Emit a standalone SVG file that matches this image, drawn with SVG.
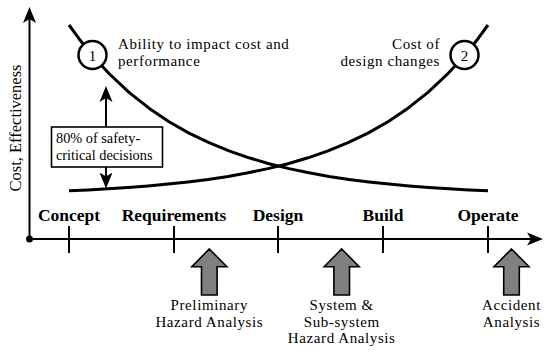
<svg xmlns="http://www.w3.org/2000/svg" xmlns:xlink="http://www.w3.org/1999/xlink" width="550" height="355" viewBox="0 0 550 355">
<style>
.t{font-family:"Liberation Serif",serif;font-size:15px;letter-spacing:0.6px;fill:#000}
.n{font-family:"Liberation Serif",serif;font-size:15px;fill:#000}
.yl{font-family:"Liberation Serif",serif;font-size:16.5px;fill:#000}
.b{font-family:"Liberation Serif",serif;font-size:17.5px;font-weight:bold;fill:#000}
.s{font-family:"Liberation Serif",serif;font-size:14.3px;fill:#000}
.ax{stroke:#000;stroke-width:2;fill:none}
.cv{stroke:#000;stroke-width:3;fill:none;stroke-linejoin:round;stroke-linecap:butt}
.circ{fill:#fff;stroke:#000;stroke-width:2.5}
.big{fill:#808080;stroke:#000;stroke-width:1.6;stroke-linejoin:miter}
</style>
<defs>
<marker id="ah" viewBox="0 -8 18 16" markerWidth="18" markerHeight="16" refX="12" refY="0" orient="auto" markerUnits="userSpaceOnUse">
<path d="M16,0 L0,-6.5 L4,0 L0,6.5 Z" fill="#000"/>
</marker>
<path id="bigArrow" d="M0,0 L17.5,17.7 L7.8,17.7 L7.8,46 L-7.8,46 L-7.8,17.7 L-17.5,17.7 Z"/>
</defs>
<rect width="550" height="355" fill="#fff"/>

<g id="connectors">
<line id="y-axis" class="ax" x1="29.5" y1="239" x2="29.5" y2="11" marker-end="url(#ah)"/>
<line id="x-axis" class="ax" x1="29.5" y1="239" x2="539" y2="239" marker-end="url(#ah)"/>
<circle cx="29.5" cy="239" r="3.5" fill="#000"/>
<g id="ticks" class="ax">
<line x1="69" y1="226" x2="69" y2="253"/>
<line x1="174" y1="226" x2="174" y2="253"/>
<line x1="278" y1="226" x2="278" y2="253"/>
<line x1="383" y1="226" x2="383" y2="253"/>
<line x1="488" y1="226" x2="488" y2="253"/>
</g>
<polyline id="curve-ability" class="cv" points="69,25 79,38.7 89,51.2 99,62.8 109,73.5 129,92.3 149,108.2 169,121.7 189,133.1 209,142.7 229,150.9 249,157.8 269,163.7 289,168.6 309,172.8 329,176.4 349,179.4 369,181.9 389,184.1 409,185.9 429,187.5 449,188.8 469,189.9 488,190.8"/>
<polyline id="curve-cost" class="cv" points="488,25 478,38.7 468,51.2 458,62.8 448,73.5 428,92.3 408,108.2 388,121.7 368,133.1 348,142.7 328,150.9 308,157.8 288,163.7 268,168.6 248,172.8 228,176.4 208,179.4 188,181.9 168,184.1 148,185.9 128,187.5 108,188.8 88,189.9 69,190.8"/>
<line class="ax" x1="106" y1="127" x2="106" y2="90" marker-end="url(#ah)"/>
<line class="ax" x1="106" y1="167" x2="106" y2="184.5" marker-end="url(#ah)"/>
</g>

<g id="y-label">
<text class="yl" transform="translate(20.5,128) rotate(-90)" text-anchor="middle">Cost, Effectiveness</text>
</g>

<g id="marker1">
<circle class="circ" cx="92.5" cy="55" r="14"/>
<text class="n" x="92.5" y="60.5" text-anchor="middle">1</text>
</g>
<g id="label1">
<text class="t" x="118" y="49">Ability to impact cost and</text>
<text class="t" x="118" y="66">performance</text>
</g>
<g id="marker2">
<circle class="circ" cx="464.5" cy="55" r="14"/>
<text class="n" x="464.5" y="60.5" text-anchor="middle">2</text>
</g>
<g id="label2">
<text class="t" x="440" y="49" text-anchor="end">Cost of</text>
<text class="t" x="440" y="66" text-anchor="end">design changes</text>
</g>

<g id="box80">
<rect x="51.5" y="127" width="111" height="40" fill="#fff" stroke="#000" stroke-width="1.6"/>
<text class="s" x="56" y="142.5">80% of safety-</text>
<text class="s" x="56" y="159.5">critical decisions</text>
</g>

<g id="phases">
<text class="b" x="69" y="221" text-anchor="middle">Concept</text>
<text class="b" x="174" y="221" text-anchor="middle">Requirements</text>
<text class="b" x="278" y="221" text-anchor="middle">Design</text>
<text class="b" x="383" y="221" text-anchor="middle">Build</text>
<text class="b" x="488" y="221" text-anchor="middle">Operate</text>
</g>

<g id="pha">
<use xlink:href="#bigArrow" class="big" x="209.3" y="249"/>
<text class="t" x="209.3" y="310" text-anchor="middle">Preliminary</text>
<text class="t" x="209.3" y="326.7" text-anchor="middle">Hazard Analysis</text>
</g>
<g id="ssha">
<use xlink:href="#bigArrow" class="big" x="341.7" y="249"/>
<text class="t" x="341.7" y="310" text-anchor="middle">System &amp;</text>
<text class="t" x="341.7" y="326.7" text-anchor="middle">Sub-system</text>
<text class="t" x="341.7" y="343.3" text-anchor="middle">Hazard Analysis</text>
</g>
<g id="aa">
<use xlink:href="#bigArrow" class="big" x="511.5" y="249"/>
<text class="t" x="511.5" y="310" text-anchor="middle">Accident</text>
<text class="t" x="511.5" y="326.7" text-anchor="middle">Analysis</text>
</g>
</svg>
